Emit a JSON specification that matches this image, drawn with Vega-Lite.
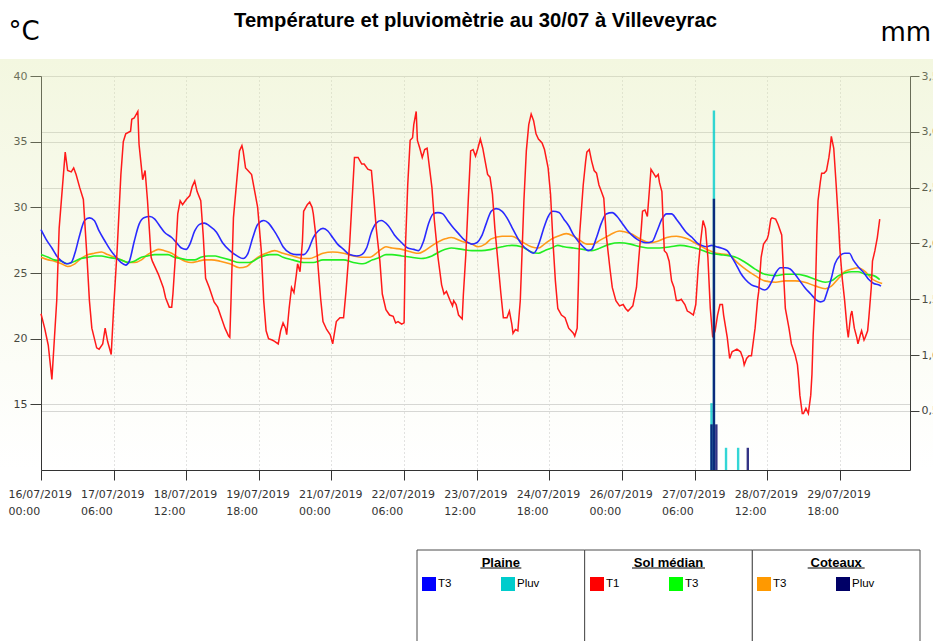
{
  "$schema": "https://vega.github.io/schema/vega-lite/v6.json",
  "background": "white",
  "padding": {"left": 0, "top": 10, "right": 0, "bottom": 0},
  "config": {"view": {"stroke": null}, "font": "Liberation Sans"},
  "spacing": 33,
  "datasets": {
    "sol_t1": [
      {"t":"2019-07-16T00:00","v":21.9},{"t":"2019-07-16T01:30","v":20.8},{"t":"2019-07-16T03:00","v":19.5},{"t":"2019-07-16T04:30","v":16.9},{"t":"2019-07-16T06:30","v":22.9},{"t":"2019-07-16T07:30","v":28.4},{"t":"2019-07-16T10:00","v":34.2},{"t":"2019-07-16T11:00","v":32.8},{"t":"2019-07-16T12:30","v":32.7},{"t":"2019-07-16T13:30","v":33.0},{"t":"2019-07-16T14:30","v":32.5},{"t":"2019-07-16T16:00","v":31.5},{"t":"2019-07-16T17:30","v":30.6},{"t":"2019-07-16T19:00","v":26.2},{"t":"2019-07-16T20:00","v":22.9},{"t":"2019-07-16T21:00","v":20.8},{"t":"2019-07-16T23:00","v":19.3},
      {"t":"2019-07-17T00:00","v":19.2},{"t":"2019-07-17T01:30","v":19.6},{"t":"2019-07-17T02:30","v":20.8},{"t":"2019-07-17T03:30","v":19.8},{"t":"2019-07-17T05:00","v":18.8},{"t":"2019-07-17T06:00","v":22.3},{"t":"2019-07-17T07:30","v":26.9},{"t":"2019-07-17T09:00","v":32.5},{"t":"2019-07-17T10:00","v":35.0},{"t":"2019-07-17T11:00","v":35.6},{"t":"2019-07-17T13:00","v":35.8},{"t":"2019-07-17T13:30","v":36.7},{"t":"2019-07-17T14:30","v":36.8},{"t":"2019-07-17T16:00","v":37.3},{"t":"2019-07-17T16:30","v":34.8},{"t":"2019-07-17T17:30","v":33.0},{"t":"2019-07-17T18:00","v":32.1},{"t":"2019-07-17T19:00","v":32.8},{"t":"2019-07-17T20:00","v":30.5},{"t":"2019-07-17T21:30","v":26.2},{"t":"2019-07-17T22:00","v":25.9},
      {"t":"2019-07-18T00:30","v":24.9},{"t":"2019-07-18T02:30","v":23.9},{"t":"2019-07-18T03:30","v":23.1},{"t":"2019-07-18T05:00","v":22.4},{"t":"2019-07-18T06:00","v":22.4},{"t":"2019-07-18T06:30","v":23.4},{"t":"2019-07-18T07:30","v":26.2},{"t":"2019-07-18T08:30","v":29.5},{"t":"2019-07-18T09:30","v":30.5},{"t":"2019-07-18T10:30","v":30.2},{"t":"2019-07-18T12:00","v":30.6},{"t":"2019-07-18T13:30","v":30.9},{"t":"2019-07-18T14:30","v":31.6},{"t":"2019-07-18T15:30","v":32.0},{"t":"2019-07-18T16:30","v":31.2},{"t":"2019-07-18T18:00","v":30.5},{"t":"2019-07-18T19:00","v":27.9},{"t":"2019-07-18T20:00","v":24.6},{"t":"2019-07-18T21:30","v":23.9},{"t":"2019-07-18T23:30","v":22.8},
      {"t":"2019-07-19T01:00","v":22.4},{"t":"2019-07-19T02:30","v":21.6},{"t":"2019-07-19T04:00","v":20.8},{"t":"2019-07-19T05:30","v":20.2},{"t":"2019-07-19T06:00","v":20.1},{"t":"2019-07-19T06:30","v":22.9},{"t":"2019-07-19T07:30","v":29.2},{"t":"2019-07-19T09:00","v":32.3},{"t":"2019-07-19T10:00","v":34.3},{"t":"2019-07-19T11:00","v":34.7},{"t":"2019-07-19T11:30","v":34.3},{"t":"2019-07-19T12:30","v":33.0},{"t":"2019-07-19T13:30","v":32.8},{"t":"2019-07-19T15:00","v":32.5},{"t":"2019-07-19T16:30","v":31.0},{"t":"2019-07-19T17:30","v":30.0},{"t":"2019-07-19T19:00","v":26.7},{"t":"2019-07-19T20:00","v":22.9},{"t":"2019-07-19T21:00","v":20.6},{"t":"2019-07-19T22:00","v":20.0},{"t":"2019-07-19T23:30","v":19.9},
      {"t":"2019-07-20T00:30","v":19.8},{"t":"2019-07-20T02:00","v":19.6},{"t":"2019-07-20T03:00","v":20.6},{"t":"2019-07-20T04:00","v":21.2},{"t":"2019-07-20T05:00","v":20.8},{"t":"2019-07-20T05:30","v":20.3},{"t":"2019-07-20T06:30","v":22.3},{"t":"2019-07-20T07:30","v":23.9},{"t":"2019-07-20T08:30","v":23.5},{"t":"2019-07-20T09:30","v":24.9},{"t":"2019-07-20T10:00","v":25.7},{"t":"2019-07-20T11:00","v":25.1},{"t":"2019-07-20T12:00","v":27.4},{"t":"2019-07-20T12:30","v":29.7},{"t":"2019-07-20T14:00","v":30.2},{"t":"2019-07-20T15:00","v":30.4},{"t":"2019-07-20T16:00","v":30.0},{"t":"2019-07-20T16:30","v":29.5},{"t":"2019-07-20T17:30","v":27.9},{"t":"2019-07-20T18:30","v":25.4},{"t":"2019-07-20T19:30","v":23.1},{"t":"2019-07-20T20:30","v":21.3},{"t":"2019-07-20T22:00","v":20.7},{"t":"2019-07-20T23:30","v":20.3},
      {"t":"2019-07-21T00:30","v":19.6},{"t":"2019-07-21T02:00","v":21.3},{"t":"2019-07-21T03:30","v":21.6},{"t":"2019-07-21T05:00","v":21.6},{"t":"2019-07-21T06:00","v":23.6},{"t":"2019-07-21T07:30","v":27.2},{"t":"2019-07-21T08:30","v":30.5},{"t":"2019-07-21T09:30","v":33.8},{"t":"2019-07-21T11:00","v":33.8},{"t":"2019-07-21T12:30","v":33.3},{"t":"2019-07-21T13:30","v":33.3},{"t":"2019-07-21T15:00","v":32.9},{"t":"2019-07-21T16:30","v":32.8},{"t":"2019-07-21T17:30","v":30.7},{"t":"2019-07-21T18:30","v":28.4},{"t":"2019-07-21T20:00","v":25.9},{"t":"2019-07-21T21:00","v":23.4},{"t":"2019-07-21T22:30","v":22.2},
      {"t":"2019-07-22T00:00","v":21.8},{"t":"2019-07-22T01:30","v":21.7},{"t":"2019-07-22T02:30","v":21.2},{"t":"2019-07-22T03:30","v":21.3},{"t":"2019-07-22T05:00","v":21.1},{"t":"2019-07-22T06:00","v":21.2},{"t":"2019-07-22T06:30","v":26.7},{"t":"2019-07-22T07:30","v":31.7},{"t":"2019-07-22T08:30","v":35.1},{"t":"2019-07-22T09:30","v":35.3},{"t":"2019-07-22T10:00","v":36.3},{"t":"2019-07-22T11:00","v":37.3},{"t":"2019-07-22T11:30","v":35.1},{"t":"2019-07-22T12:30","v":34.5},{"t":"2019-07-22T13:30","v":33.8},{"t":"2019-07-22T14:30","v":34.4},{"t":"2019-07-22T15:30","v":34.5},{"t":"2019-07-22T16:30","v":33.0},{"t":"2019-07-22T17:30","v":31.5},{"t":"2019-07-22T18:30","v":29.0},{"t":"2019-07-22T20:00","v":26.2},{"t":"2019-07-22T21:30","v":24.1},{"t":"2019-07-22T22:30","v":23.4},{"t":"2019-07-22T23:30","v":23.6},
      {"t":"2019-07-23T01:00","v":22.9},{"t":"2019-07-23T02:00","v":22.5},{"t":"2019-07-23T02:30","v":22.9},{"t":"2019-07-23T03:30","v":22.6},{"t":"2019-07-23T04:30","v":21.8},{"t":"2019-07-23T06:00","v":21.5},{"t":"2019-07-23T06:30","v":23.4},{"t":"2019-07-23T07:30","v":26.4},{"t":"2019-07-23T08:30","v":30.5},{"t":"2019-07-23T09:30","v":34.3},{"t":"2019-07-23T10:30","v":34.4},{"t":"2019-07-23T11:30","v":33.9},{"t":"2019-07-23T12:30","v":34.5},{"t":"2019-07-23T13:30","v":35.2},{"t":"2019-07-23T14:30","v":34.5},{"t":"2019-07-23T15:30","v":33.5},{"t":"2019-07-23T16:30","v":32.5},{"t":"2019-07-23T17:30","v":32.3},{"t":"2019-07-23T18:30","v":31.0},{"t":"2019-07-23T19:30","v":28.4},{"t":"2019-07-23T21:00","v":25.4},{"t":"2019-07-23T22:00","v":23.4},{"t":"2019-07-23T23:00","v":21.6},
      {"t":"2019-07-24T00:30","v":21.6},{"t":"2019-07-24T01:30","v":22.1},{"t":"2019-07-24T02:30","v":21.1},{"t":"2019-07-24T03:00","v":20.4},{"t":"2019-07-24T04:00","v":20.7},{"t":"2019-07-24T05:00","v":20.6},{"t":"2019-07-24T06:00","v":22.9},{"t":"2019-07-24T06:30","v":25.4},{"t":"2019-07-24T07:30","v":30.5},{"t":"2019-07-24T08:30","v":34.3},{"t":"2019-07-24T09:30","v":36.3},{"t":"2019-07-24T10:30","v":37.1},{"t":"2019-07-24T11:30","v":36.6},{"t":"2019-07-24T12:30","v":35.6},{"t":"2019-07-24T13:30","v":35.2},{"t":"2019-07-24T15:00","v":34.9},{"t":"2019-07-24T16:00","v":34.4},{"t":"2019-07-24T17:30","v":33.0},{"t":"2019-07-24T18:30","v":31.0},{"t":"2019-07-24T19:30","v":27.4},{"t":"2019-07-24T20:30","v":24.4},{"t":"2019-07-24T21:30","v":22.3},{"t":"2019-07-24T23:00","v":21.8},
      {"t":"2019-07-25T00:30","v":21.6},{"t":"2019-07-25T02:00","v":20.8},{"t":"2019-07-25T03:00","v":20.6},{"t":"2019-07-25T04:00","v":20.4},{"t":"2019-07-25T04:30","v":20.2},{"t":"2019-07-25T05:30","v":20.8},{"t":"2019-07-25T06:00","v":24.1},{"t":"2019-07-25T06:30","v":27.9},{"t":"2019-07-25T08:00","v":31.7},{"t":"2019-07-25T09:00","v":33.5},{"t":"2019-07-25T09:30","v":34.2},{"t":"2019-07-25T10:30","v":34.4},{"t":"2019-07-25T11:30","v":33.5},{"t":"2019-07-25T12:30","v":32.8},{"t":"2019-07-25T13:30","v":32.6},{"t":"2019-07-25T14:30","v":31.7},{"t":"2019-07-25T15:30","v":31.2},{"t":"2019-07-25T16:30","v":30.7},{"t":"2019-07-25T17:30","v":27.9},{"t":"2019-07-25T19:00","v":25.4},{"t":"2019-07-25T20:00","v":23.9},{"t":"2019-07-25T21:30","v":22.9},{"t":"2019-07-25T23:00","v":22.5},
      {"t":"2019-07-26T00:30","v":22.6},{"t":"2019-07-26T01:30","v":22.3},{"t":"2019-07-26T02:30","v":22.1},{"t":"2019-07-26T03:30","v":22.3},{"t":"2019-07-26T04:30","v":22.5},{"t":"2019-07-26T06:00","v":23.9},{"t":"2019-07-26T07:00","v":26.2},{"t":"2019-07-26T08:00","v":28.4},{"t":"2019-07-26T08:30","v":29.7},{"t":"2019-07-26T09:30","v":29.8},{"t":"2019-07-26T10:30","v":29.3},{"t":"2019-07-26T11:30","v":31.7},{"t":"2019-07-26T12:00","v":32.9},{"t":"2019-07-26T13:00","v":32.6},{"t":"2019-07-26T14:00","v":32.3},{"t":"2019-07-26T15:00","v":32.5},{"t":"2019-07-26T15:30","v":31.9},{"t":"2019-07-26T16:30","v":31.2},{"t":"2019-07-26T17:30","v":26.7},{"t":"2019-07-26T18:30","v":26.5},{"t":"2019-07-26T19:30","v":25.9},{"t":"2019-07-26T20:30","v":24.4},{"t":"2019-07-26T21:30","v":23.9},{"t":"2019-07-26T22:30","v":22.9},{"t":"2019-07-26T23:30","v":22.9},
      {"t":"2019-07-27T00:30","v":23.0},{"t":"2019-07-27T02:00","v":22.6},{"t":"2019-07-27T03:00","v":22.1},{"t":"2019-07-27T04:00","v":22.0},{"t":"2019-07-27T05:30","v":21.8},{"t":"2019-07-27T06:30","v":22.6},{"t":"2019-07-27T07:30","v":25.4},{"t":"2019-07-27T08:30","v":27.4},{"t":"2019-07-27T09:30","v":29.0},{"t":"2019-07-27T10:30","v":28.4},{"t":"2019-07-27T11:30","v":26.2},{"t":"2019-07-27T12:30","v":22.3},{"t":"2019-07-27T13:30","v":20.1},{"t":"2019-07-27T14:30","v":20.6},{"t":"2019-07-27T15:30","v":21.8},{"t":"2019-07-27T16:30","v":22.6},{"t":"2019-07-27T17:30","v":22.6},{"t":"2019-07-27T18:00","v":21.8},{"t":"2019-07-27T19:30","v":20.1},{"t":"2019-07-27T20:30","v":18.5},{"t":"2019-07-27T21:30","v":19.0},{"t":"2019-07-27T23:30","v":19.2},
      {"t":"2019-07-28T01:00","v":19.0},{"t":"2019-07-28T02:00","v":18.5},{"t":"2019-07-28T02:30","v":18.0},{"t":"2019-07-28T03:30","v":18.5},{"t":"2019-07-28T04:30","v":18.7},{"t":"2019-07-28T05:30","v":18.7},{"t":"2019-07-28T07:00","v":20.8},{"t":"2019-07-28T08:00","v":22.9},{"t":"2019-07-28T08:30","v":23.6},{"t":"2019-07-28T09:30","v":26.2},{"t":"2019-07-28T10:30","v":27.2},{"t":"2019-07-28T12:00","v":27.6},{"t":"2019-07-28T12:30","v":27.9},{"t":"2019-07-28T13:30","v":29.1},{"t":"2019-07-28T14:00","v":29.2},{"t":"2019-07-28T15:30","v":29.1},{"t":"2019-07-28T16:30","v":28.7},{"t":"2019-07-28T18:00","v":27.9},{"t":"2019-07-28T19:00","v":24.1},{"t":"2019-07-28T19:30","v":22.3},{"t":"2019-07-28T21:00","v":20.8},{"t":"2019-07-28T22:00","v":19.6},{"t":"2019-07-28T23:30","v":18.8},
      {"t":"2019-07-29T00:30","v":18.0},{"t":"2019-07-29T01:00","v":17.0},{"t":"2019-07-29T01:30","v":15.7},{"t":"2019-07-29T02:30","v":14.3},{"t":"2019-07-29T03:00","v":14.3},{"t":"2019-07-29T04:00","v":14.7},{"t":"2019-07-29T05:00","v":14.3},{"t":"2019-07-29T06:00","v":15.7},{"t":"2019-07-29T06:30","v":17.3},{"t":"2019-07-29T07:00","v":20.3},{"t":"2019-07-29T08:00","v":24.1},{"t":"2019-07-29T08:30","v":27.9},{"t":"2019-07-29T09:00","v":30.5},{"t":"2019-07-29T10:00","v":32.0},{"t":"2019-07-29T10:30","v":32.6},{"t":"2019-07-29T11:30","v":32.6},{"t":"2019-07-29T12:30","v":32.8},{"t":"2019-07-29T13:30","v":33.8},{"t":"2019-07-29T14:00","v":34.5},{"t":"2019-07-29T14:30","v":35.4},{"t":"2019-07-29T15:30","v":34.5},{"t":"2019-07-29T16:30","v":31.7},{"t":"2019-07-29T17:30","v":28.7},{"t":"2019-07-29T18:00","v":26.9},{"t":"2019-07-29T19:00","v":24.6},{"t":"2019-07-29T20:00","v":22.9},{"t":"2019-07-29T21:00","v":20.8},{"t":"2019-07-29T21:30","v":20.1},{"t":"2019-07-29T22:30","v":21.8},{"t":"2019-07-29T23:00","v":22.1},
      {"t":"2019-07-30T00:00","v":20.8},{"t":"2019-07-30T01:00","v":20.1},{"t":"2019-07-30T01:30","v":19.6},{"t":"2019-07-30T02:30","v":20.3},{"t":"2019-07-30T03:00","v":20.6},{"t":"2019-07-30T04:00","v":19.9},{"t":"2019-07-30T04:30","v":20.1},{"t":"2019-07-30T05:30","v":20.6},{"t":"2019-07-30T06:00","v":21.6},{"t":"2019-07-30T07:00","v":23.9},{"t":"2019-07-30T07:30","v":25.9},{"t":"2019-07-30T08:30","v":26.7},{"t":"2019-07-30T09:30","v":27.7},{"t":"2019-07-30T10:00","v":28.4},{"t":"2019-07-30T10:30","v":29.1}
    ],
    "plaine_t3": [
      {"t":"2019-07-16T00:00","v":28.3},{"t":"2019-07-16T02:00","v":27.6},{"t":"2019-07-16T04:30","v":26.9},{"t":"2019-07-16T06:30","v":26.3},{"t":"2019-07-16T08:30","v":25.9},{"t":"2019-07-16T10:30","v":25.7},{"t":"2019-07-16T12:30","v":25.8},{"t":"2019-07-16T14:00","v":26.5},{"t":"2019-07-16T16:00","v":27.9},{"t":"2019-07-16T18:00","v":29.0},{"t":"2019-07-16T20:00","v":29.2},{"t":"2019-07-16T22:00","v":29.0},
      {"t":"2019-07-17T00:00","v":28.2},{"t":"2019-07-17T02:30","v":27.4},{"t":"2019-07-17T04:30","v":26.8},{"t":"2019-07-17T07:00","v":26.2},{"t":"2019-07-17T09:00","v":25.8},{"t":"2019-07-17T11:00","v":25.6},{"t":"2019-07-17T12:30","v":25.9},{"t":"2019-07-17T14:30","v":27.4},{"t":"2019-07-17T16:30","v":28.7},{"t":"2019-07-17T18:30","v":29.2},{"t":"2019-07-17T21:00","v":29.3},{"t":"2019-07-17T23:00","v":29.1},
      {"t":"2019-07-18T01:00","v":28.6},{"t":"2019-07-18T03:00","v":28.1},{"t":"2019-07-18T06:00","v":27.7},{"t":"2019-07-18T08:00","v":27.3},{"t":"2019-07-18T10:00","v":26.9},{"t":"2019-07-18T12:00","v":26.8},{"t":"2019-07-18T13:30","v":27.2},{"t":"2019-07-18T15:30","v":28.2},{"t":"2019-07-18T17:30","v":28.7},{"t":"2019-07-18T19:30","v":28.8},{"t":"2019-07-18T21:30","v":28.6},
      {"t":"2019-07-19T00:30","v":28.1},{"t":"2019-07-19T03:00","v":27.3},{"t":"2019-07-19T06:00","v":26.7},{"t":"2019-07-19T09:00","v":26.3},{"t":"2019-07-19T11:30","v":26.1},{"t":"2019-07-19T13:30","v":26.5},{"t":"2019-07-19T15:30","v":27.7},{"t":"2019-07-19T17:30","v":28.7},{"t":"2019-07-19T20:00","v":29.0},{"t":"2019-07-19T22:00","v":28.8},
      {"t":"2019-07-20T00:00","v":28.3},{"t":"2019-07-20T02:00","v":27.7},{"t":"2019-07-20T04:00","v":27.0},{"t":"2019-07-20T07:00","v":26.5},{"t":"2019-07-20T09:30","v":26.4},{"t":"2019-07-20T12:30","v":26.4},{"t":"2019-07-20T14:30","v":26.8},{"t":"2019-07-20T16:30","v":27.7},{"t":"2019-07-20T18:30","v":28.2},{"t":"2019-07-20T20:30","v":28.4},{"t":"2019-07-20T22:30","v":28.2},
      {"t":"2019-07-21T00:30","v":27.7},{"t":"2019-07-21T02:30","v":27.2},{"t":"2019-07-21T05:00","v":26.8},{"t":"2019-07-21T07:30","v":26.4},{"t":"2019-07-21T10:30","v":26.3},{"t":"2019-07-21T12:30","v":26.4},{"t":"2019-07-21T14:30","v":26.9},{"t":"2019-07-21T16:30","v":28.1},{"t":"2019-07-21T18:30","v":28.8},{"t":"2019-07-21T20:30","v":29.0},{"t":"2019-07-21T23:30","v":28.6},
      {"t":"2019-07-22T02:00","v":27.9},{"t":"2019-07-22T05:00","v":27.3},{"t":"2019-07-22T07:30","v":26.9},{"t":"2019-07-22T10:00","v":26.8},{"t":"2019-07-22T12:00","v":26.7},{"t":"2019-07-22T14:00","v":27.4},{"t":"2019-07-22T16:00","v":28.7},{"t":"2019-07-22T18:00","v":29.5},{"t":"2019-07-22T20:00","v":29.6},{"t":"2019-07-22T22:00","v":29.5},
      {"t":"2019-07-23T00:00","v":29.0},{"t":"2019-07-23T02:30","v":28.4},{"t":"2019-07-23T04:30","v":28.0},{"t":"2019-07-23T07:00","v":27.5},{"t":"2019-07-23T10:00","v":27.2},{"t":"2019-07-23T12:00","v":27.3},{"t":"2019-07-23T14:00","v":27.8},{"t":"2019-07-23T16:00","v":28.8},{"t":"2019-07-23T18:00","v":29.7},{"t":"2019-07-23T20:00","v":29.9},{"t":"2019-07-23T22:30","v":29.7},
      {"t":"2019-07-24T00:30","v":29.2},{"t":"2019-07-24T02:30","v":28.5},{"t":"2019-07-24T04:30","v":27.8},{"t":"2019-07-24T06:30","v":27.2},{"t":"2019-07-24T09:30","v":26.7},{"t":"2019-07-24T11:30","v":26.5},{"t":"2019-07-24T12:30","v":26.7},{"t":"2019-07-24T14:00","v":27.4},{"t":"2019-07-24T15:30","v":28.3},{"t":"2019-07-24T17:30","v":29.3},{"t":"2019-07-24T19:30","v":29.7},{"t":"2019-07-24T22:00","v":29.6},
      {"t":"2019-07-25T00:00","v":29.1},{"t":"2019-07-25T02:00","v":28.6},{"t":"2019-07-25T04:00","v":27.9},{"t":"2019-07-25T06:00","v":27.4},{"t":"2019-07-25T08:00","v":27.0},{"t":"2019-07-25T10:00","v":26.7},{"t":"2019-07-25T11:30","v":26.8},{"t":"2019-07-25T13:30","v":27.7},{"t":"2019-07-25T15:30","v":28.8},{"t":"2019-07-25T17:30","v":29.5},{"t":"2019-07-25T20:00","v":29.6},{"t":"2019-07-25T22:00","v":29.3},
      {"t":"2019-07-26T00:00","v":28.8},{"t":"2019-07-26T02:00","v":28.3},{"t":"2019-07-26T04:00","v":27.9},{"t":"2019-07-26T06:00","v":27.6},{"t":"2019-07-26T08:00","v":27.4},{"t":"2019-07-26T10:00","v":27.3},{"t":"2019-07-26T12:30","v":27.4},{"t":"2019-07-26T14:30","v":28.2},{"t":"2019-07-26T16:30","v":29.1},{"t":"2019-07-26T18:30","v":29.5},{"t":"2019-07-26T20:30","v":29.5},{"t":"2019-07-26T22:30","v":29.1},
      {"t":"2019-07-27T00:30","v":28.6},{"t":"2019-07-27T02:30","v":28.1},{"t":"2019-07-27T05:00","v":27.7},{"t":"2019-07-27T07:00","v":27.3},{"t":"2019-07-27T09:00","v":27.1},{"t":"2019-07-27T11:00","v":27.0},{"t":"2019-07-27T13:00","v":27.1},{"t":"2019-07-27T15:00","v":27.0},{"t":"2019-07-27T17:00","v":26.9},{"t":"2019-07-27T19:30","v":26.7},{"t":"2019-07-27T21:00","v":26.3},{"t":"2019-07-27T23:00","v":25.7},
      {"t":"2019-07-28T01:00","v":25.0},{"t":"2019-07-28T03:00","v":24.5},{"t":"2019-07-28T05:30","v":24.1},{"t":"2019-07-28T08:30","v":23.9},{"t":"2019-07-28T11:00","v":23.7},{"t":"2019-07-28T12:30","v":23.9},{"t":"2019-07-28T14:00","v":24.4},{"t":"2019-07-28T15:30","v":25.0},{"t":"2019-07-28T17:30","v":25.4},{"t":"2019-07-28T19:30","v":25.4},{"t":"2019-07-28T21:30","v":25.3},{"t":"2019-07-28T23:30","v":24.9},
      {"t":"2019-07-29T01:30","v":24.4},{"t":"2019-07-29T03:30","v":23.9},{"t":"2019-07-29T06:00","v":23.4},{"t":"2019-07-29T08:00","v":23.0},{"t":"2019-07-29T10:00","v":22.8},{"t":"2019-07-29T11:30","v":22.9},{"t":"2019-07-29T12:30","v":23.4},{"t":"2019-07-29T14:30","v":24.6},{"t":"2019-07-29T16:00","v":25.7},{"t":"2019-07-29T18:00","v":26.3},{"t":"2019-07-29T20:00","v":26.5},{"t":"2019-07-29T22:00","v":26.5},{"t":"2019-07-29T23:30","v":26.0},
      {"t":"2019-07-30T01:30","v":25.5},{"t":"2019-07-30T04:00","v":25.0},{"t":"2019-07-30T06:00","v":24.5},{"t":"2019-07-30T08:00","v":24.2},{"t":"2019-07-30T10:00","v":24.1},{"t":"2019-07-30T11:00","v":24.0}
    ],
    "sol_t3": [
      {"t":"2019-07-16T00:00","v":26.4},{"t":"2019-07-16T03:00","v":26.2},{"t":"2019-07-16T05:30","v":26.0},{"t":"2019-07-16T08:30","v":25.9},{"t":"2019-07-16T11:00","v":25.7},{"t":"2019-07-16T14:00","v":25.9},{"t":"2019-07-16T16:30","v":26.1},{"t":"2019-07-16T19:30","v":26.2},{"t":"2019-07-16T22:00","v":26.3},
      {"t":"2019-07-17T01:00","v":26.3},{"t":"2019-07-17T03:30","v":26.2},{"t":"2019-07-17T06:30","v":26.1},{"t":"2019-07-17T09:00","v":26.0},{"t":"2019-07-17T12:00","v":25.8},{"t":"2019-07-17T14:30","v":25.9},{"t":"2019-07-17T17:30","v":26.2},{"t":"2019-07-17T20:00","v":26.3},{"t":"2019-07-17T23:00","v":26.4},
      {"t":"2019-07-18T01:30","v":26.4},{"t":"2019-07-18T04:30","v":26.4},{"t":"2019-07-18T07:00","v":26.2},{"t":"2019-07-18T10:00","v":26.1},{"t":"2019-07-18T12:30","v":26.0},{"t":"2019-07-18T15:30","v":26.0},{"t":"2019-07-18T18:00","v":26.2},{"t":"2019-07-18T21:00","v":26.3},
      {"t":"2019-07-19T00:00","v":26.3},{"t":"2019-07-19T02:00","v":26.2},{"t":"2019-07-19T06:00","v":26.0},{"t":"2019-07-19T10:00","v":25.8},{"t":"2019-07-19T14:00","v":25.8},{"t":"2019-07-19T18:30","v":26.2},{"t":"2019-07-19T22:30","v":26.4},
      {"t":"2019-07-20T01:30","v":26.4},{"t":"2019-07-20T04:00","v":26.2},{"t":"2019-07-20T08:00","v":26.0},{"t":"2019-07-20T12:30","v":25.8},{"t":"2019-07-20T16:30","v":25.8},{"t":"2019-07-20T20:30","v":26.0},
      {"t":"2019-07-21T00:30","v":26.0},{"t":"2019-07-21T05:00","v":26.0},{"t":"2019-07-21T09:00","v":25.8},{"t":"2019-07-21T13:00","v":25.7},{"t":"2019-07-21T17:00","v":26.0},{"t":"2019-07-21T20:00","v":26.2},{"t":"2019-07-21T22:30","v":26.4},
      {"t":"2019-07-22T01:00","v":26.4},{"t":"2019-07-22T05:00","v":26.3},{"t":"2019-07-22T09:00","v":26.2},{"t":"2019-07-22T13:00","v":26.1},{"t":"2019-07-22T17:30","v":26.3},{"t":"2019-07-22T21:30","v":26.7},
      {"t":"2019-07-23T01:30","v":26.9},{"t":"2019-07-23T06:00","v":26.8},{"t":"2019-07-23T10:00","v":26.7},{"t":"2019-07-23T14:00","v":26.7},{"t":"2019-07-23T18:00","v":26.8},{"t":"2019-07-23T22:30","v":27.0},
      {"t":"2019-07-24T02:30","v":27.1},{"t":"2019-07-24T06:30","v":27.0},{"t":"2019-07-24T10:30","v":26.6},{"t":"2019-07-24T13:30","v":26.5},{"t":"2019-07-24T16:00","v":26.7},{"t":"2019-07-24T19:00","v":26.9},{"t":"2019-07-24T21:30","v":27.1},
      {"t":"2019-07-25T00:00","v":27.0},{"t":"2019-07-25T04:00","v":26.9},{"t":"2019-07-25T08:00","v":26.8},{"t":"2019-07-25T11:30","v":26.7},{"t":"2019-07-25T15:00","v":26.9},{"t":"2019-07-25T19:00","v":27.2},{"t":"2019-07-25T23:00","v":27.3},
      {"t":"2019-07-26T03:30","v":27.2},{"t":"2019-07-26T07:30","v":27.0},{"t":"2019-07-26T11:30","v":26.9},{"t":"2019-07-26T15:30","v":26.9},{"t":"2019-07-26T20:00","v":27.0},
      {"t":"2019-07-27T00:00","v":27.1},{"t":"2019-07-27T04:00","v":27.0},{"t":"2019-07-27T08:00","v":26.8},{"t":"2019-07-27T12:30","v":26.5},{"t":"2019-07-27T16:30","v":26.4},{"t":"2019-07-27T20:30","v":26.3},{"t":"2019-07-27T23:00","v":26.2},
      {"t":"2019-07-28T03:00","v":25.8},{"t":"2019-07-28T07:00","v":25.3},{"t":"2019-07-28T11:00","v":24.9},{"t":"2019-07-28T15:30","v":24.8},{"t":"2019-07-28T19:30","v":24.9},{"t":"2019-07-28T23:30","v":24.9},
      {"t":"2019-07-29T03:30","v":24.8},{"t":"2019-07-29T08:00","v":24.5},{"t":"2019-07-29T12:00","v":24.3},{"t":"2019-07-29T14:30","v":24.4},{"t":"2019-07-29T17:30","v":24.8},{"t":"2019-07-29T20:00","v":25.0},{"t":"2019-07-29T23:00","v":25.1},
      {"t":"2019-07-30T01:30","v":25.1},{"t":"2019-07-30T04:30","v":24.9},{"t":"2019-07-30T08:00","v":24.8},{"t":"2019-07-30T10:30","v":24.5}
    ],
    "cot_t3": [
      {"t":"2019-07-16T00:00","v":26.2},{"t":"2019-07-16T03:00","v":26.0},{"t":"2019-07-16T05:30","v":25.9},{"t":"2019-07-16T08:30","v":25.7},{"t":"2019-07-16T11:00","v":25.5},{"t":"2019-07-16T14:00","v":25.7},{"t":"2019-07-16T16:30","v":26.1},{"t":"2019-07-16T19:30","v":26.4},{"t":"2019-07-16T22:00","v":26.5},
      {"t":"2019-07-17T01:00","v":26.6},{"t":"2019-07-17T03:30","v":26.4},{"t":"2019-07-17T06:30","v":26.2},{"t":"2019-07-17T09:00","v":26.0},{"t":"2019-07-17T12:00","v":25.8},{"t":"2019-07-17T14:30","v":25.8},{"t":"2019-07-17T17:30","v":26.0},{"t":"2019-07-17T20:00","v":26.4},{"t":"2019-07-17T23:00","v":26.7},
      {"t":"2019-07-18T00:30","v":26.8},{"t":"2019-07-18T03:00","v":26.7},{"t":"2019-07-18T06:00","v":26.5},{"t":"2019-07-18T08:30","v":26.2},{"t":"2019-07-18T11:30","v":25.9},{"t":"2019-07-18T14:00","v":25.8},{"t":"2019-07-18T17:00","v":25.9},{"t":"2019-07-18T19:30","v":26.0},{"t":"2019-07-18T22:30","v":26.0},
      {"t":"2019-07-19T02:00","v":25.9},{"t":"2019-07-19T06:00","v":25.7},{"t":"2019-07-19T10:00","v":25.4},{"t":"2019-07-19T13:00","v":25.5},{"t":"2019-07-19T15:30","v":25.9},{"t":"2019-07-19T18:30","v":26.3},{"t":"2019-07-19T21:00","v":26.5},
      {"t":"2019-07-20T00:30","v":26.7},{"t":"2019-07-20T04:00","v":26.5},{"t":"2019-07-20T08:00","v":26.3},{"t":"2019-07-20T12:30","v":26.1},{"t":"2019-07-20T15:00","v":26.1},{"t":"2019-07-20T18:00","v":26.3},{"t":"2019-07-20T20:30","v":26.5},
      {"t":"2019-07-21T00:30","v":26.6},{"t":"2019-07-21T05:00","v":26.5},{"t":"2019-07-21T09:00","v":26.3},{"t":"2019-07-21T13:00","v":26.2},{"t":"2019-07-21T16:00","v":26.2},{"t":"2019-07-21T18:30","v":26.5},{"t":"2019-07-21T20:30","v":26.8},{"t":"2019-07-21T22:30","v":27.0},
      {"t":"2019-07-22T01:00","v":26.9},{"t":"2019-07-22T05:00","v":26.8},{"t":"2019-07-22T09:00","v":26.6},{"t":"2019-07-22T12:00","v":26.5},{"t":"2019-07-22T14:30","v":26.7},{"t":"2019-07-22T18:30","v":27.2},{"t":"2019-07-22T23:00","v":27.6},
      {"t":"2019-07-23T01:30","v":27.7},{"t":"2019-07-23T06:00","v":27.4},{"t":"2019-07-23T10:00","v":27.2},{"t":"2019-07-23T12:30","v":27.0},{"t":"2019-07-23T15:30","v":27.2},{"t":"2019-07-23T18:00","v":27.6},{"t":"2019-07-23T22:30","v":27.8},
      {"t":"2019-07-24T02:30","v":27.8},{"t":"2019-07-24T06:30","v":27.4},{"t":"2019-07-24T10:30","v":27.0},{"t":"2019-07-24T13:30","v":26.9},{"t":"2019-07-24T16:00","v":27.2},{"t":"2019-07-24T19:00","v":27.6},{"t":"2019-07-24T21:30","v":27.8},
      {"t":"2019-07-25T01:00","v":28.0},{"t":"2019-07-25T04:00","v":27.8},{"t":"2019-07-25T06:30","v":27.5},{"t":"2019-07-25T09:30","v":27.2},{"t":"2019-07-25T12:00","v":27.2},{"t":"2019-07-25T15:00","v":27.5},{"t":"2019-07-25T19:00","v":27.9},{"t":"2019-07-25T23:00","v":28.2},
      {"t":"2019-07-26T03:30","v":28.0},{"t":"2019-07-26T07:30","v":27.6},{"t":"2019-07-26T11:30","v":27.3},{"t":"2019-07-26T14:30","v":27.4},{"t":"2019-07-26T18:30","v":27.7},{"t":"2019-07-26T22:30","v":27.8},
      {"t":"2019-07-27T03:00","v":27.6},{"t":"2019-07-27T07:00","v":27.2},{"t":"2019-07-27T11:00","v":26.8},{"t":"2019-07-27T15:00","v":26.5},{"t":"2019-07-27T19:30","v":26.4},{"t":"2019-07-27T21:00","v":26.3},{"t":"2019-07-27T23:00","v":25.9},
      {"t":"2019-07-28T03:00","v":25.3},{"t":"2019-07-28T07:00","v":24.8},{"t":"2019-07-28T11:00","v":24.4},{"t":"2019-07-28T15:30","v":24.3},{"t":"2019-07-28T19:30","v":24.4},{"t":"2019-07-28T23:30","v":24.4},
      {"t":"2019-07-29T03:30","v":24.3},{"t":"2019-07-29T08:00","v":24.0},{"t":"2019-07-29T12:00","v":23.8},{"t":"2019-07-29T14:30","v":24.0},{"t":"2019-07-29T17:30","v":24.6},{"t":"2019-07-29T20:00","v":25.1},{"t":"2019-07-29T23:00","v":25.3},
      {"t":"2019-07-30T01:30","v":25.4},{"t":"2019-07-30T04:30","v":25.1},{"t":"2019-07-30T07:00","v":24.6},{"t":"2019-07-30T11:30","v":24.2}
    ],
    "pluv_plaine": [
      {"t":"2019-07-27T13:00","mm":0.57},{"t":"2019-07-27T14:00","mm":3.19},{"t":"2019-07-27T19:00","mm":0.17},{"t":"2019-07-28T00:00","mm":0.17}
    ],
    "pluv_cot": [
      {"t":"2019-07-27T13:00","mm":0.38},{"t":"2019-07-27T14:00","mm":2.4},{"t":"2019-07-27T15:00","mm":0.38},{"t":"2019-07-28T04:00","mm":0.17}
    ],
    "stations": [{"station":"Plaine"},{"station":"Sol médian"},{"station":"Coteaux"}]
  },
  "vconcat": [
    {
      "title": {"text": "Température et pluviomètrie au 30/07 à Villeveyrac", "font": "Liberation Sans Narrow, Liberation Sans", "fontSize": 20.2, "fontWeight": "bold", "color": "#000000", "anchor": "middle", "baseline": "alphabetic", "offset": -29},
      "width": 869,
      "height": 394,
      "view": {"stroke": null},
      "resolve": {"scale": {"y": "independent"}},
      "layer": [
        {
          "layer": [
            {
              "data": {"values": [{}]},
              "mark": {"type": "rect", "fill": {"gradient": "linear", "x1": 0, "y1": 0, "x2": 0, "y2": 1, "stops": [{"offset": 0, "color": "rgba(221,232,166,0.35)"}, {"offset": 1, "color": "rgba(221,232,166,0)"}]}},
              "encoding": {
                "x": {"datum": {"year": 2019, "month": 7, "date": 15, "hours": 7, "minutes": 4}, "type": "temporal", "scale": {"domain": [{"year": 2019, "month": 7, "date": 16, "hours": 0}, {"year": 2019, "month": 7, "date": 30, "hours": 23}], "padding": 0}},
                "x2": {"datum": {"year": 2019, "month": 7, "date": 31, "hours": 9}},
                "y": {"datum": 41.3, "type": "quantitative", "scale": {"domain": [10, 40], "nice": false, "zero": false, "padding": 0}},
                "y2": {"datum": 10}
              }
            },
            {
              "data": {"name": "cot_t3"},
              "mark": {"type": "line", "color": "#ff9a1a", "strokeWidth": 1.6, "interpolate": "monotone"},
              "encoding": {
                "x": {"field": "t", "type": "temporal", "scale": {"domain": [{"year": 2019, "month": 7, "date": 16, "hours": 0}, {"year": 2019, "month": 7, "date": 30, "hours": 23}], "padding": 0},
                  "axis": {"title": null, "values": [{"year":2019,"month":7,"date":16,"hours":0},{"year":2019,"month":7,"date":17,"hours":6},{"year":2019,"month":7,"date":18,"hours":12},{"year":2019,"month":7,"date":19,"hours":18},{"year":2019,"month":7,"date":21,"hours":0},{"year":2019,"month":7,"date":22,"hours":6},{"year":2019,"month":7,"date":23,"hours":12},{"year":2019,"month":7,"date":24,"hours":18},{"year":2019,"month":7,"date":26,"hours":0},{"year":2019,"month":7,"date":27,"hours":6},{"year":2019,"month":7,"date":28,"hours":12},{"year":2019,"month":7,"date":29,"hours":18}],
                    "labelExpr": "[timeFormat(datum.value, '%d/%m/%Y'), timeFormat(datum.value, '%H:%M')]",
                    "labelAlign": "left", "labelOffset": -33, "labelBaseline": "top", "labelPadding": 8, "labelLineHeight": 17,
                    "labelFont": "DejaVu Sans", "labelFontSize": 11, "labelColor": "#333333", "labelFlush": false, "labelOverlap": false,
                    "tickSize": 10, "tickColor": "#333333", "domainColor": "#333333",
                    "grid": true, "gridDash": [1, 3], "gridColor": "#c4c4c4"}},
                "y": {"field": "v", "type": "quantitative", "scale": {"domain": [10, 40], "nice": false, "zero": false, "padding": 0},
                  "axis": {"values": [15, 20, 25, 30, 35, 40], "title": "°C", "titleAngle": 0, "titleAlign": "left", "titleBaseline": "alphabetic", "titleX": -33, "titleY": -37, "titleFont": "DejaVu Sans", "titleFontSize": 26, "titleFontWeight": "normal", "titleColor": "#000000",
                    "labelFont": "DejaVu Sans", "labelFontSize": 11, "labelColor": "#333333", "labelPadding": 3, "tickSize": 11, "tickColor": "#333333", "domainColor": "#333333", "grid": true, "gridColor": "#d6d6d6"}}
              }
            },
            {
              "data": {"name": "sol_t3"},
              "mark": {"type": "line", "color": "#22ee22", "strokeWidth": 1.6, "interpolate": "monotone"},
              "encoding": {
                "x": {"field": "t", "type": "temporal", "scale": {"domain": [{"year": 2019, "month": 7, "date": 16, "hours": 0}, {"year": 2019, "month": 7, "date": 30, "hours": 23}], "padding": 0}},
                "y": {"field": "v", "type": "quantitative", "scale": {"domain": [10, 40], "nice": false, "zero": false, "padding": 0}}
              }
            },
            {
              "data": {"name": "plaine_t3"},
              "mark": {"type": "line", "color": "#2a2aff", "strokeWidth": 1.6, "interpolate": "monotone"},
              "encoding": {
                "x": {"field": "t", "type": "temporal", "scale": {"domain": [{"year": 2019, "month": 7, "date": 16, "hours": 0}, {"year": 2019, "month": 7, "date": 30, "hours": 23}], "padding": 0}},
                "y": {"field": "v", "type": "quantitative", "scale": {"domain": [10, 40], "nice": false, "zero": false, "padding": 0}}
              }
            },
            {
              "data": {"name": "sol_t1"},
              "mark": {"type": "line", "color": "#ff1a1a", "strokeWidth": 1.5},
              "encoding": {
                "x": {"field": "t", "type": "temporal", "scale": {"domain": [{"year": 2019, "month": 7, "date": 16, "hours": 0}, {"year": 2019, "month": 7, "date": 30, "hours": 23}], "padding": 0}},
                "y": {"field": "v", "type": "quantitative", "scale": {"domain": [10, 40], "nice": false, "zero": false, "padding": 0}}
              }
            }
          ]
        },
        {
          "layer": [
            {
              "data": {"name": "pluv_plaine"},
              "mark": {"type": "bar", "width": 2.4, "color": "#00cccc", "opacity": 0.8},
              "encoding": {
                "x": {"field": "t", "type": "temporal", "scale": {"domain": [{"year": 2019, "month": 7, "date": 16, "hours": 0}, {"year": 2019, "month": 7, "date": 30, "hours": 23}], "padding": 0}},
                "y": {"field": "mm", "type": "quantitative", "scale": {"domain": [-0.029, 3.5], "nice": false, "zero": false, "padding": 0},
                  "axis": {"orient": "right", "values": [0.5, 1, 1.5, 2, 2.5, 3, 3.5], "labelExpr": "replace(format(datum.value, '.1f'), '.', ',')",
                    "title": "mm", "titleAngle": 0, "titleAlign": "left", "titleBaseline": "alphabetic", "titleX": -30, "titleY": -36, "titleFont": "DejaVu Sans", "titleFontSize": 26, "titleFontWeight": "normal", "titleColor": "#000000",
                    "labelFont": "DejaVu Sans", "labelFontSize": 11, "labelColor": "#333333", "labelPadding": 2, "tickSize": 9, "tickColor": "#333333", "domainColor": "#333333", "grid": true, "gridColor": "#d6d6d6"}},
                "y2": {"datum": -0.029}
              }
            },
            {
              "data": {"name": "pluv_cot"},
              "mark": {"type": "bar", "width": 2.4, "color": "#000066", "opacity": 0.8},
              "encoding": {
                "x": {"field": "t", "type": "temporal", "scale": {"domain": [{"year": 2019, "month": 7, "date": 16, "hours": 0}, {"year": 2019, "month": 7, "date": 30, "hours": 23}], "padding": 0}},
                "y": {"field": "mm", "type": "quantitative", "scale": {"domain": [-0.029, 3.5], "nice": false, "zero": false, "padding": 0}},
                "y2": {"datum": -0.029}
              }
            }
          ]
        }
      ]
    },
    {
      "width": 879,
      "height": 100,
      "view": {"stroke": null},
      "resolve": {"scale": {"color": "independent"}},
      "layer": [
        {
          "data": {"name": "stations"},
          "mark": {"type": "bar", "fill": "#ffffff", "stroke": "#4d4d4d", "strokeWidth": 1},
          "encoding": {
            "x": {"field": "station", "type": "nominal", "sort": null, "scale": {"domain": ["Plaine", "Sol médian", "Coteaux"], "range": [376, 879], "paddingInner": 0, "paddingOuter": 0}, "axis": null}
          }
        },
        {
          "data": {"name": "stations"},
          "mark": {"type": "text", "font": "Liberation Sans", "fontSize": 13, "fontWeight": "bold", "color": "#000000", "baseline": "middle", "dy": -37},
          "encoding": {
            "x": {"field": "station", "type": "nominal", "sort": null, "scale": {"domain": ["Plaine", "Sol médian", "Coteaux"], "range": [376, 879], "paddingInner": 0, "paddingOuter": 0}, "axis": null},
            "text": {"field": "station"}
          }
        },
        {
          "data": {"name": "stations"},
          "mark": {"type": "tick", "orient": "horizontal", "thickness": 1, "color": "#000000", "opacity": 1, "yOffset": -32},
          "encoding": {
            "x": {"field": "station", "type": "nominal", "sort": null, "scale": {"domain": ["Plaine", "Sol médian", "Coteaux"], "range": [376, 879], "paddingInner": 0, "paddingOuter": 0}, "axis": null},
            "size": {"field": "station", "type": "nominal", "scale": {"type": "point", "domain": ["Plaine", "Coteaux", "Sol médian"], "range": [41, 73], "padding": 0}, "legend": null}
          }
        },
        {
          "data": {"values": []},
          "mark": {"type": "square", "filled": true, "opacity": 1},
          "encoding": {
            "color": {"field": "serie", "type": "nominal", "scale": {"domain": ["T3", "Pluv"], "range": ["#0000ff", "#00cccc"]},
              "legend": {"orient": "none", "legendX": 381, "legendY": 27, "title": null, "direction": "horizontal", "columns": 2, "columnPadding": 49, "symbolType": "square", "symbolSize": 196, "symbolStrokeWidth": 0, "labelFont": "Liberation Sans", "labelFontSize": 11.5, "labelColor": "#000000", "labelOffset": 2, "padding": 0}}
          }
        },
        {
          "data": {"values": []},
          "mark": {"type": "square", "filled": true, "opacity": 1},
          "encoding": {
            "color": {"field": "serie", "type": "nominal", "scale": {"domain": ["T1", "T3"], "range": ["#ff0000", "#00ff00"]},
              "legend": {"orient": "none", "legendX": 549, "legendY": 27, "title": null, "direction": "horizontal", "columns": 2, "columnPadding": 49, "symbolType": "square", "symbolSize": 196, "symbolStrokeWidth": 0, "labelFont": "Liberation Sans", "labelFontSize": 11.5, "labelColor": "#000000", "labelOffset": 2, "padding": 0}}
          }
        },
        {
          "data": {"values": []},
          "mark": {"type": "square", "filled": true, "opacity": 1},
          "encoding": {
            "color": {"field": "serie", "type": "nominal", "scale": {"domain": ["T3", "Pluv"], "range": ["#ff9900", "#000066"]},
              "legend": {"orient": "none", "legendX": 716, "legendY": 27, "title": null, "direction": "horizontal", "columns": 2, "columnPadding": 49, "symbolType": "square", "symbolSize": 196, "symbolStrokeWidth": 0, "labelFont": "Liberation Sans", "labelFontSize": 11.5, "labelColor": "#000000", "labelOffset": 2, "padding": 0}}
          }
        }
      ]
    }
  ]
}
